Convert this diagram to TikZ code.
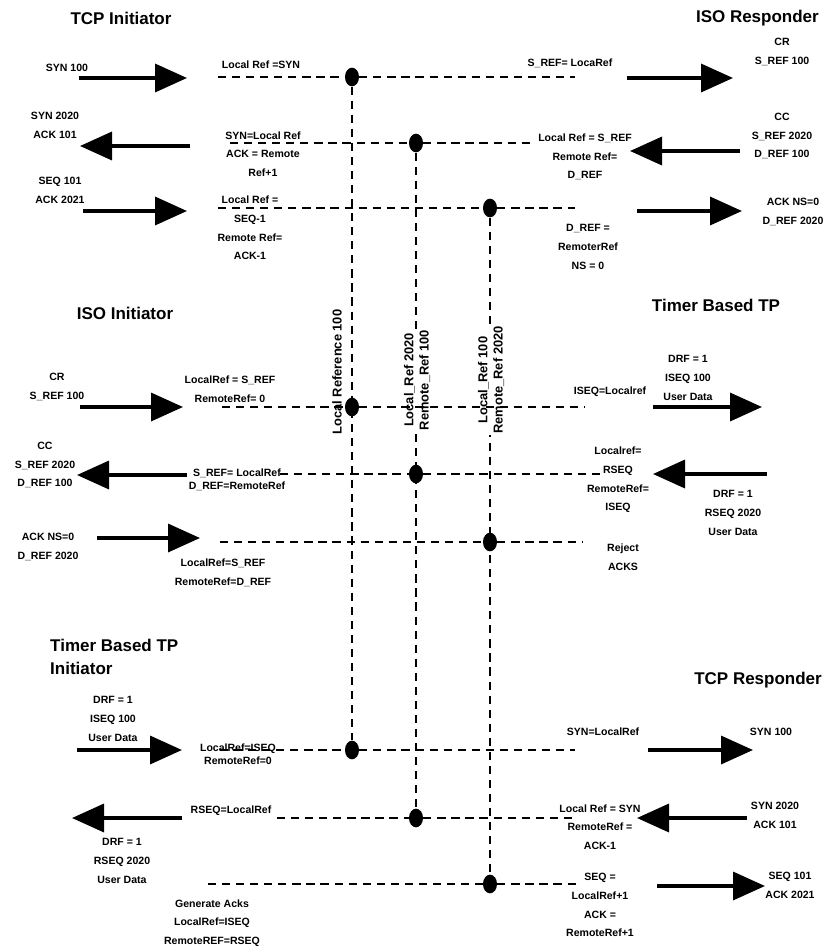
\documentclass[tikz,border=0pt]{standalone}
\usepackage{fontspec}
\setmainfont{Liberation Sans}
\usetikzlibrary{arrows.meta,shapes.geometric}

\begin{document}
\begin{tikzpicture}[x=0.03cm,y=-0.03cm,
  ttl/.style={inner sep=0pt,font=\fontsize{14.5}{19}\selectfont\bfseries},
  lbl/.style={inner sep=0pt,align=center,font=\fontsize{9}{16}\selectfont\bfseries},
  tight/.style={lbl,font=\fontsize{9}{11.5}\selectfont\bfseries},
  vlbl/.style={rotate=90,inner sep=1pt,fill=white,align=center,font=\fontsize{11}{13}\selectfont\bfseries},
  msg/.style={line width=3pt,-{Triangle[length=0.96cm,width=0.84cm]}},
  refline/.style={line width=1.9pt,dash pattern=on 7pt off 5pt},
  refdot/.style={ellipse,fill=black,inner sep=0pt,minimum width=0.42cm,minimum height=0.56cm}]
\useasboundingbox (0,0) rectangle (826,951);

\node[ttl] (tcpinit) at (121,18) {TCP Initiator};
\node[ttl,anchor=east] (isoresp) at (819,18) {ISO Responder};
\node[ttl] (isoinit) at (125,313) {ISO Initiator};
\node[ttl] (timertp) at (716,305) {Timer Based TP};
\node[ttl,anchor=west,align=left] (timerinit) at (50,657) {Timer Based TP\\Initiator};
\node[ttl,anchor=east] (tcpresp) at (822,680) {TCP Responder};

\node[refdot] (d1) at (352,77) {};
\node[refdot] (d2) at (416,143) {};
\node[refdot] (d3) at (490,208) {};
\node[refdot] (d4) at (352,407) {};
\node[refdot] (d5) at (416,474) {};
\node[refdot] (d6) at (490,542) {};
\node[refdot] (d7) at (352,750) {};
\node[refdot] (d8) at (416,818) {};
\node[refdot] (d9) at (490,884) {};

\draw[refline] (d1) -- (d7);
\draw[refline] (d2) -- (d8);
\draw[refline] (d3) -- (d9);

\node[vlbl,fill=none] (v1) at (337,372) {Local Reference 100};
\node[vlbl] (v2) at (417,380) {Local\_Ref 2020\\Remote\_Ref 100};
\node[vlbl] (v3) at (491,380) {Local\_Ref 100\\Remote\_Ref 2020};

\coordinate (h1a) at (218,77);
\coordinate (h1b) at (575,77);
\coordinate (h2a) at (230,143);
\coordinate (h2b) at (530,143);
\coordinate (h3a) at (218,208);
\coordinate (h3b) at (575,208);
\coordinate (h4a) at (222,407);
\coordinate (h4b) at (585,407);
\coordinate (h5a) at (280,474);
\coordinate (h5b) at (600,474);
\coordinate (h6a) at (220,542);
\coordinate (h6b) at (583,542);
\coordinate (h7a) at (220,750);
\coordinate (h7b) at (575,750);
\coordinate (h8a) at (277,818);
\coordinate (h8b) at (573,818);
\coordinate (h9a) at (208,884);
\coordinate (h9b) at (577,884);
\draw[refline] (h1a) -- (d1) -- (h1b);
\draw[refline] (h2a) -- (d2) -- (h2b);
\draw[refline] (h3a) -- (d3) -- (h3b);
\draw[refline] (h4a) -- (d4) -- (h4b);
\draw[refline] (h5a) -- (d5) -- (h5b);
\draw[refline] (h6a) -- (d6) -- (h6b);
\draw[refline] (h7a) -- (d7) -- (h7b);
\draw[refline] (h8a) -- (d8) -- (h8b);
\draw[refline] (h9a) -- (d9) -- (h9b);

\coordinate (la1) at (79,78);
\coordinate (lb1) at (187,78);
\coordinate (ra1) at (627,78);
\coordinate (rb1) at (733,78);
\coordinate (la2) at (190,146);
\coordinate (lb2) at (80,146);
\coordinate (ra2) at (740,151);
\coordinate (rb2) at (630,151);
\coordinate (la3) at (83,211);
\coordinate (lb3) at (187,211);
\coordinate (ra3) at (637,211);
\coordinate (rb3) at (742,211);
\coordinate (la4) at (80,407);
\coordinate (lb4) at (183,407);
\coordinate (ra4) at (653,407);
\coordinate (rb4) at (762,407);
\coordinate (la5) at (187,475);
\coordinate (lb5) at (77,475);
\coordinate (ra5) at (767,474);
\coordinate (rb5) at (653,474);
\coordinate (la6) at (97,538);
\coordinate (lb6) at (200,538);
\coordinate (la7) at (77,750);
\coordinate (lb7) at (182,750);
\coordinate (ra7) at (648,750);
\coordinate (rb7) at (753,750);
\coordinate (la8) at (182,818);
\coordinate (lb8) at (72,818);
\coordinate (ra8) at (747,818);
\coordinate (rb8) at (637,818);
\coordinate (ra9) at (657,886);
\coordinate (rb9) at (765,886);
\draw[msg] (la1) -- (lb1);
\draw[msg] (ra1) -- (rb1);
\draw[msg] (la2) -- (lb2);
\draw[msg] (ra2) -- (rb2);
\draw[msg] (la3) -- (lb3);
\draw[msg] (ra3) -- (rb3);
\draw[msg] (la4) -- (lb4);
\draw[msg] (ra4) -- (rb4);
\draw[msg] (la5) -- (lb5);
\draw[msg] (ra5) -- (rb5);
\draw[msg] (la6) -- (lb6);
\draw[msg] (la7) -- (lb7);
\draw[msg] (ra7) -- (rb7);
\draw[msg] (la8) -- (lb8);
\draw[msg] (ra8) -- (rb8);
\draw[msg] (ra9) -- (rb9);

\node[lbl] (s1l) at (67,68) {SYN 100};
\node[lbl] (s1m) at (261,65) {Local Ref =SYN};
\node[lbl] (s1n) at (570,63) {S\_REF= LocaRef};
\node[lbl] (s1r) at (782,52) {CR\\S\_REF 100};
\node[lbl] (s2l) at (55,125) {SYN 2020\\ACK 101};
\node[lbl] (s2m) at (263,154) {SYN=Local Ref\\ACK = Remote\\Ref+1};
\node[lbl] (s2n) at (585,157) {Local Ref = S\_REF\\Remote Ref=\\D\_REF};
\node[lbl] (s2r) at (782,136) {CC\\S\_REF 2020\\D\_REF 100};
\node[lbl] (s3l) at (60,190) {SEQ 101\\ACK 2021};
\node[lbl] (s3m) at (250,228) {Local Ref =\\SEQ-1\\Remote Ref=\\ACK-1};
\node[lbl] (s3n) at (588,247) {D\_REF =\\RemoterRef\\NS = 0};
\node[lbl] (s3r) at (793,212) {ACK NS=0\\D\_REF 2020};
\node[lbl] (s4l) at (57,387) {CR\\S\_REF 100};
\node[lbl] (s4m) at (230,389) {LocalRef = S\_REF\\RemoteRef= 0};
\node[lbl] (s4n) at (610,392) {ISEQ=Localref};
\node[lbl] (s4r) at (688,378) {DRF = 1\\ISEQ 100\\User Data};
\node[lbl] (s5l) at (45,465) {CC\\S\_REF 2020\\D\_REF 100};
\node[tight] (s5m) at (237,480) {S\_REF= LocalRef\\D\_REF=RemoteRef};
\node[lbl] (s5n) at (618,480) {Localref=\\RSEQ\\RemoteRef=\\ISEQ};
\node[lbl] (s5r) at (733,513) {DRF = 1\\RSEQ 2020\\User Data};
\node[lbl] (s6l) at (48,547) {ACK NS=0\\D\_REF 2020};
\node[lbl] (s6m) at (223,573) {LocalRef=S\_REF\\RemoteRef=D\_REF};
\node[lbl] (s6n) at (623,557) {Reject\\ACKS};
\node[lbl] (s7l) at (113,719) {DRF = 1\\ISEQ 100\\User Data};
\node[tight] (s7m) at (238,754) {LocalRef=ISEQ\\RemoteRef=0};
\node[lbl] (s7n) at (603,732) {SYN=LocalRef};
\node[lbl] (s7r) at (771,732) {SYN 100};
\node[lbl] (s8l) at (122,861) {DRF = 1\\RSEQ 2020\\User Data};
\node[lbl] (s8m) at (231,811) {RSEQ=LocalRef};
\node[lbl] (s8n) at (600,827) {Local Ref = SYN\\RemoteRef =\\ACK-1};
\node[lbl] (s8r) at (775,815) {SYN 2020\\ACK 101};
\node[lbl] (s9m) at (212,923) {Generate Acks\\LocalRef=ISEQ\\RemoteREF=RSEQ};
\node[lbl] (s9n) at (600,905) {SEQ =\\LocalRef+1\\ACK =\\RemoteRef+1};
\node[lbl] (s9r) at (790,885) {SEQ 101\\ACK 2021};
\end{tikzpicture}
\end{document}
